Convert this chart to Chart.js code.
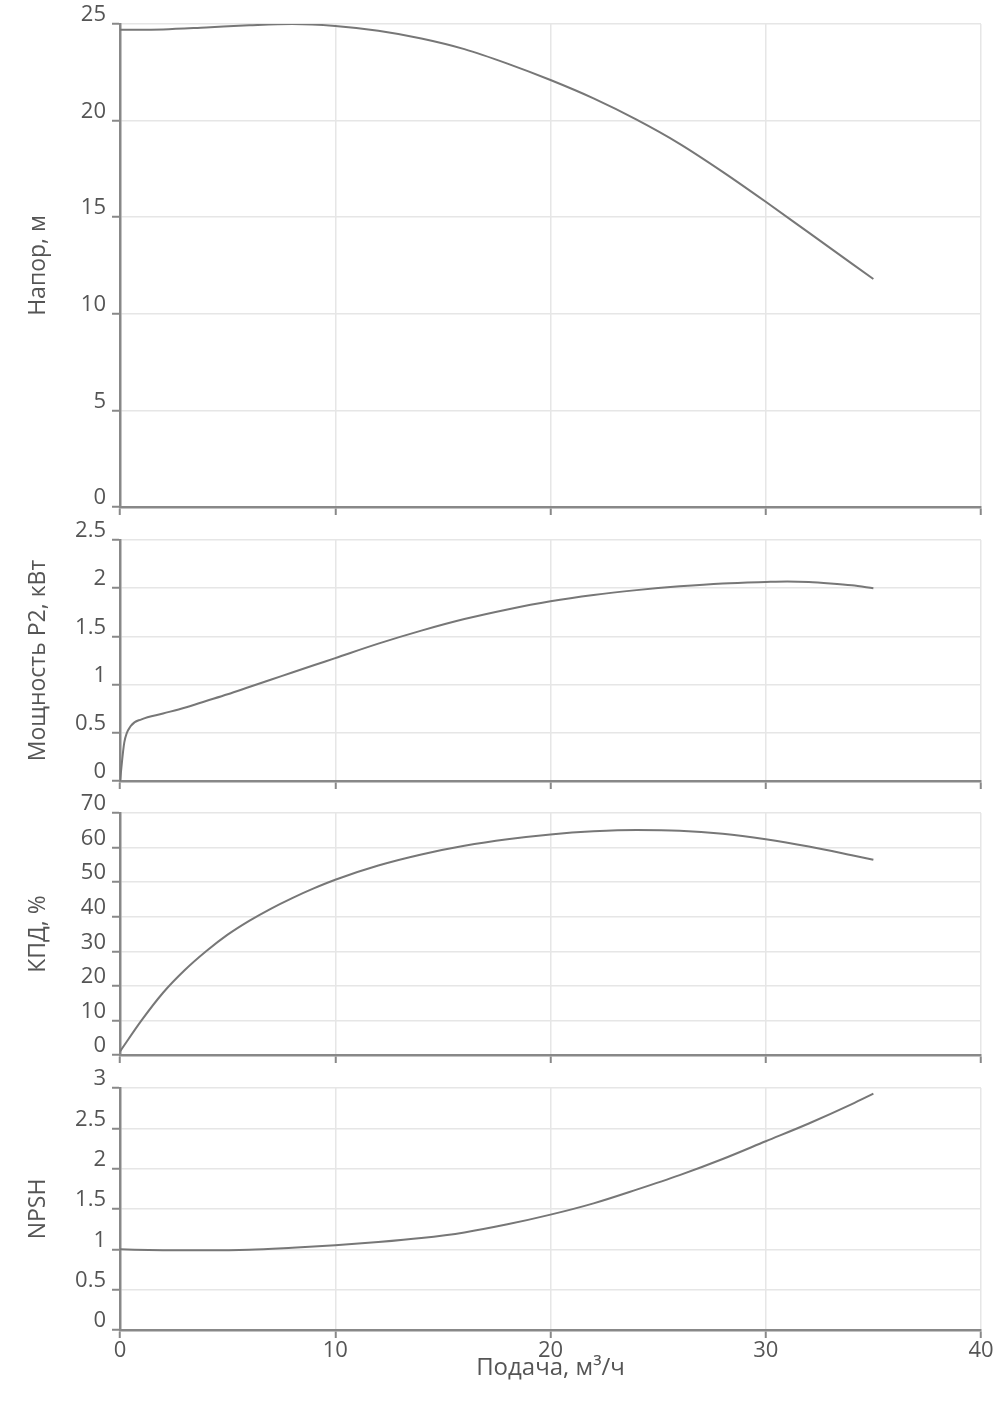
<!DOCTYPE html>
<html>
<head>
<meta charset="utf-8">
<script src="https://cdn.jsdelivr.net/npm/chart.js@4/dist/chart.umd.min.js"></script>
<style>
  body { margin: 0; background: #fff; }
  .panel { position: absolute; left: 0; width: 1000px; }
</style>
</head>
<body>
<div class="panel" style="top:0;height:522px"><canvas id="grHead"></canvas></div>
<div class="panel" style="top:512px;height:284px"><canvas id="grPower"></canvas></div>
<div class="panel" style="top:786px;height:284px"><canvas id="grEff"></canvas></div>
<div class="panel" style="top:1060px;height:347px"><canvas id="grNpsh"></canvas></div>
<script>
// подача, м3/ч
const flowHead = [0, 2, 4, 6, 8, 10, 12, 14, 16, 18, 20, 22, 24, 26, 28, 30, 32, 34, 35];
const head = [24.7, 24.72, 24.82, 24.93, 25.0, 24.9, 24.65, 24.25, 23.7, 22.95, 22.1, 21.15, 20.05, 18.8, 17.35, 15.8, 14.2, 12.6, 11.8];

const flowPower = [0, 0.2, 0.5, 1, 2, 3, 4, 5, 6, 7, 8, 9, 10, 12, 14, 16, 18, 20, 22, 24, 26, 28, 30, 31, 32, 33, 34, 35];
const power = [0, 0.4, 0.57, 0.64, 0.7, 0.76, 0.83, 0.9, 0.975, 1.05, 1.125, 1.2, 1.275, 1.425, 1.56, 1.68, 1.78, 1.865, 1.93, 1.98, 2.02, 2.05, 2.065, 2.07, 2.065, 2.05, 2.03, 2.0];

const flowEff = [0, 1, 2, 3, 4, 5, 6, 7, 8, 9, 10, 12, 14, 16, 18, 20, 22, 24, 26, 28, 30, 32, 34, 35];
const eff = [1, 10, 18, 24.5, 30, 34.8, 38.8, 42.3, 45.4, 48.2, 50.7, 54.8, 58, 60.5, 62.4, 63.8, 64.7, 65.1, 64.9, 64.0, 62.4, 60.3, 57.8, 56.5];

const flowNpsh = [0, 2, 4, 6, 8, 10, 12, 14, 16, 18, 20, 22, 24, 26, 28, 30, 32, 34, 35];
const npsh = [1.0, 0.99, 0.988, 0.995, 1.02, 1.05, 1.09, 1.14, 1.21, 1.31, 1.43, 1.57, 1.74, 1.92, 2.12, 2.34, 2.56, 2.8, 2.93];

const xTicks = [0, 10, 20, 30, 40];

const fontTxt = { family: 'Open Sans', size: 22 };
const fontTitleY = { family: 'Open Sans', size: 23 };
const fontTitleX = { family: 'Open Sans', size: 24 };
const txtColor = '#555';

//cria um gráfico de uma curva
function criaGrafico(id, xs, ys, yMax, yStep, yTitle, padTop, ultimo) {
    return new Chart(document.getElementById(id), {
        type: 'line',
        data: {
            datasets: [{
                data: xs.map((x, i) => ({ x: x, y: ys[i] })),
                borderColor: '#777',
                borderWidth: 2,
                pointRadius: 0,
                fill: false,
                cubicInterpolationMode: 'monotone'
            }]
        },
        options: {
            responsive: true,
            maintainAspectRatio: false,
            animation: false,
            layout: { padding: { top: padTop, left: 25, right: 19, bottom: ultimo ? 24 : 0 } },
            plugins: { legend: { display: false }, tooltip: { enabled: false } },
            scales: {
                x: {
                    type: 'linear',
                    min: 0,
                    max: 40,
                    afterBuildTicks: s => { s.ticks = xTicks.map(v => ({ value: v })); },
                    afterFit: s => { s.height = ultimo ? 53 : 15; },
                    border: { color: '#888', width: 2.5 },
                    grid: { color: '#e6e6e6', lineWidth: 1.5, tickColor: '#888', tickLength: 8, tickWidth: 2 },
                    ticks: { display: ultimo, padding: 0, color: txtColor, font: fontTxt, maxRotation: 0 },
                    title: { display: ultimo, text: 'Подача, м³/ч', color: txtColor, font: fontTitleX, padding: 0 }
                },
                y: {
                    min: 0,
                    max: yMax,
                    afterFit: s => { s.width = 95; s.paddingTop = 0; s.paddingBottom = 0; },
                    border: { color: '#888', width: 2.5 },
                    grid: { color: '#e6e6e6', lineWidth: 1.5, tickColor: '#888', tickLength: 8, tickWidth: 2 },
                    ticks: {
                        stepSize: yStep,
                        padding: 6,
                        labelOffset: -9,
                        color: txtColor,
                        font: fontTxt,
                        callback: v => String(Math.round(v * 10) / 10)
                    },
                    title: { display: true, text: yTitle, color: txtColor, font: fontTitleY, padding: 0 }
                }
            }
        }
    });
}

criaGrafico('grHead', flowHead, head, 25, 5, 'Напор, м', 24, false);
criaGrafico('grPower', flowPower, power, 2.5, 0.5, 'Мощность Р2, кВт', 28, false);
criaGrafico('grEff', flowEff, eff, 70, 10, 'КПД, %', 27, false);
criaGrafico('grNpsh', flowNpsh, npsh, 3, 0.5, 'NPSH', 28, true);
</script>
</body>
</html>
